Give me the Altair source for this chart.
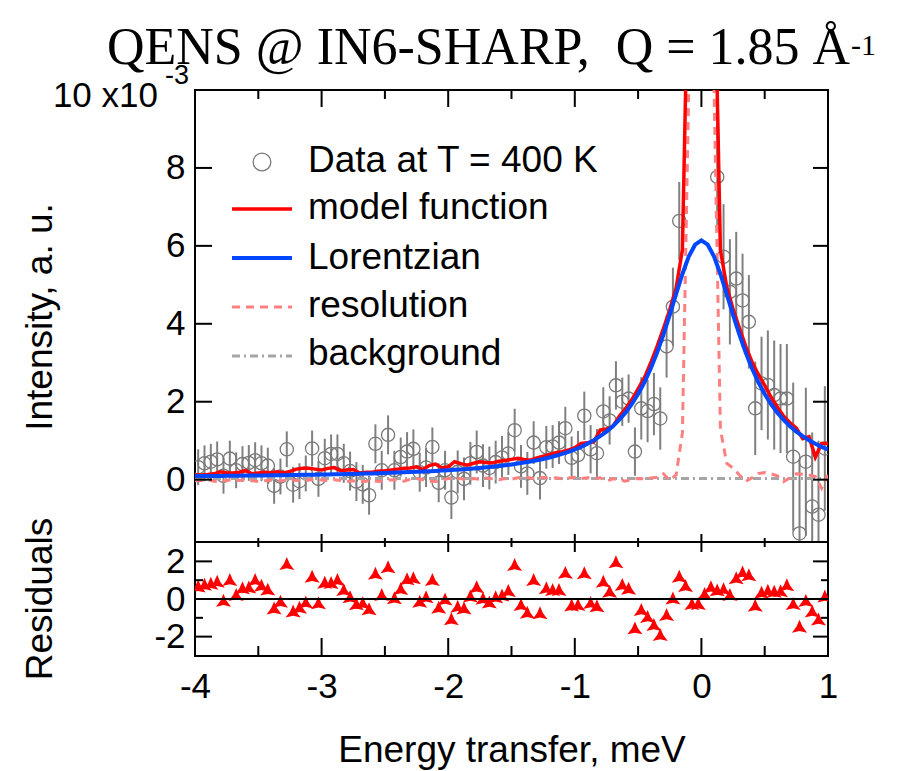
import altair as alt
import pandas as pd

# ---- measured spectrum (bin centres, meV), intensity in units of 1e-3 ----
energy = [
    -3.975, -3.925, -3.875, -3.825, -3.775, -3.725, -3.675, -3.625, -3.575, -3.525,
    -3.475, -3.425, -3.375, -3.325, -3.275, -3.225, -3.175, -3.125, -3.075, -3.025,
    -2.975, -2.925, -2.875, -2.825, -2.775, -2.725, -2.675, -2.625, -2.575, -2.525,
    -2.475, -2.425, -2.375, -2.325, -2.275, -2.225, -2.175, -2.125, -2.075, -2.025,
    -1.975, -1.925, -1.875, -1.825, -1.775, -1.725, -1.675, -1.625, -1.575, -1.525,
    -1.475, -1.425, -1.375, -1.325, -1.275, -1.225, -1.175, -1.125, -1.075, -1.025,
    -0.975, -0.925, -0.875, -0.825, -0.775, -0.725, -0.675, -0.625, -0.575, -0.525,
    -0.475, -0.425, -0.375, -0.325, -0.275, -0.225, -0.175, -0.125, -0.075, -0.025,
    0.025, 0.075, 0.125, 0.175, 0.225, 0.275, 0.325, 0.375, 0.425, 0.475,
    0.525, 0.575, 0.625, 0.675, 0.725, 0.775, 0.825, 0.875, 0.925, 0.975,
]
intensity = [
    0.32, 0.42, 0.46, 0.52, 0.10, 0.54, 0.24, 0.40, 0.43, 0.50,
    0.42, 0.36, -0.16, 0.08, 0.78, -0.13, -0.04, 0.16, 0.80, 0.02,
    0.55, 0.66, 0.66, 0.42, 0.22, -0.05, -0.12, -0.40, 0.92, 0.24,
    1.15, 0.24, 0.58, 0.72, 0.79, 0.19, 0.31, 0.84, -0.08, 0.24,
    -0.46, 0.20, 0.02, 0.42, 0.71, 0.36, 0.30, 0.45, 0.57, 0.67,
    1.27, 0.34, 0.16, 0.95, 0.04, 0.83, 0.85, 0.95, 1.32, 0.56,
    0.63, 1.64, 0.78, 0.68, 1.75, 1.52, 2.42, 2.00, 2.08, 0.72,
    1.83, 1.76, 1.94, 1.57, 3.42, 4.44, 6.64, 11.2, 26.0, 49.0,
    50.0, 28.0, 7.77, 5.72, 4.82, 5.16, 4.60, 4.05, 1.83, 2.47,
    2.43, 2.17, 2.08, 2.08, 0.59, -1.38, 0.46, -0.69, -0.90, 0.80,
]
error = (
    [0.46] * 20 + [0.50] * 20 + [0.55] * 20 + [0.62] * 10 + [0.80] * 5
    + [1.00] * 3 + [1.20] * 4 + [1.35] * 3 + [1.20] * 5 + [1.40] * 4
    + [1.90] * 5 + [1.60]
)
residual = [
    0.57, 0.67, 0.72, 0.83, -0.18, 0.92, 0.12, 0.48, 0.52, 0.92,
    0.62, 0.41, -0.59, -0.23, 1.77, -0.75, -0.55, -0.28, 1.10, -0.32,
    0.78, 0.76, 0.92, 0.39, 0.01, -0.37, -0.31, -0.63, 1.25, 0.12,
    1.60, -0.05, 0.44, 0.96, 1.01, -0.23, 0.00, 0.92, -0.55, -0.12,
    -1.17, -0.50, -0.59, 0.05, 0.54, -0.07, -0.28, 0.00, 0.10, 0.34,
    1.72, -0.41, -0.82, 0.92, -0.85, 0.48, 0.39, 0.39, 1.30, -0.43,
    -0.41, 1.28, -0.30, -0.48, 0.83, 0.30, 1.86, 0.66, 0.46, -1.65,
    -0.67, -1.05, -1.47, -2.00, -0.94, -0.06, 1.10, 0.60, -0.36, -0.35,
    0.18, 0.54, 0.37, 0.43, 0.12, 1.01, 1.32, 1.17, -0.45, 0.25,
    0.35, 0.30, 0.32, 0.64, -0.36, -1.56, -0.19, -0.75, -1.18, 0.04,
]

# ---- fitted curves on the model grid ----
fit_energy = [
    -4.00, -3.95, -3.90, -3.85, -3.80, -3.75, -3.70, -3.65, -3.60, -3.55,
    -3.50, -3.45, -3.40, -3.35, -3.30, -3.25, -3.20, -3.15, -3.10, -3.05,
    -3.00, -2.95, -2.90, -2.85, -2.80, -2.75, -2.70, -2.65, -2.60, -2.55,
    -2.50, -2.45, -2.40, -2.35, -2.30, -2.25, -2.20, -2.15, -2.10, -2.05,
    -2.00, -1.95, -1.90, -1.85, -1.80, -1.75, -1.70, -1.65, -1.60, -1.55,
    -1.50, -1.45, -1.40, -1.35, -1.30, -1.25, -1.20, -1.15, -1.10, -1.05,
    -1.00, -0.95, -0.90, -0.85, -0.80, -0.75, -0.70, -0.65, -0.60, -0.55,
    -0.50, -0.45, -0.40, -0.35, -0.30, -0.25, -0.20, -0.15, -0.10, -0.05,
    0.00,
    0.05, 0.10, 0.15, 0.20, 0.25, 0.30, 0.35, 0.40, 0.45, 0.50,
    0.55, 0.60, 0.65, 0.70, 0.75, 0.80, 0.85, 0.90, 0.95, 1.00,
]
model = [
    0.12, 0.12, 0.13, 0.15, 0.20, 0.18, 0.17, 0.19, 0.23, 0.15,
    0.17, 0.19, 0.18, 0.20, 0.17, 0.21, 0.27, 0.29, 0.29, 0.27,
    0.25, 0.29, 0.31, 0.23, 0.25, 0.26, 0.17, 0.19, 0.19, 0.22,
    0.23, 0.25, 0.27, 0.29, 0.30, 0.33, 0.26, 0.36, 0.40, 0.30,
    0.33, 0.46, 0.41, 0.37, 0.42, 0.46, 0.44, 0.43, 0.47, 0.49,
    0.52, 0.55, 0.52, 0.50, 0.56, 0.60, 0.64, 0.69, 0.72, 0.76,
    0.82, 0.93, 0.95, 0.97, 1.27, 1.30, 1.36, 1.62, 1.82, 2.05,
    2.33, 2.62, 3.00, 3.42, 3.88, 4.36, 4.92, 5.90, 14.0, 40.0,
    60.0,
    40.0, 14.0, 5.90, 4.95, 4.38, 3.90, 3.42, 3.02, 2.70, 2.42,
    2.12, 1.86, 1.63, 1.46, 1.32, 1.05, 1.10, 0.58, 0.93, 0.93,
]
lorentzian = [
    0.092, 0.093, 0.094, 0.096, 0.097, 0.099, 0.100, 0.102, 0.104, 0.106,
    0.107, 0.109, 0.111, 0.114, 0.116, 0.118, 0.120, 0.123, 0.126, 0.128,
    0.131, 0.134, 0.138, 0.141, 0.145, 0.148, 0.152, 0.157, 0.161, 0.166,
    0.171, 0.176, 0.182, 0.188, 0.194, 0.201, 0.208, 0.215, 0.224, 0.232,
    0.242, 0.252, 0.263, 0.275, 0.287, 0.301, 0.316, 0.332, 0.350, 0.369,
    0.390, 0.413, 0.438, 0.466, 0.497, 0.531, 0.570, 0.612, 0.660, 0.714,
    0.774, 0.843, 0.922, 1.012, 1.115, 1.234, 1.372, 1.533, 1.720, 1.940,
    2.198, 2.500, 2.852, 3.259, 3.720, 4.228, 4.760, 5.278, 5.724, 6.030,
    6.140,
    6.030, 5.724, 5.278, 4.760, 4.228, 3.720, 3.259, 2.852, 2.500, 2.198,
    1.940, 1.720, 1.533, 1.372, 1.234, 1.115, 1.012, 0.922, 0.843, 0.774,
]
resolution = [
    -0.03, -0.02, 0.00, -0.04, -0.05, -0.02, 0.01, -0.02, 0.00, -0.03,
    -0.05, -0.03, -0.01, -0.04, -0.02, 0.01, -0.02, -0.04, -0.01, 0.02,
    -0.01, -0.03, 0.00, -0.02, -0.05, -0.03, -0.06, -0.04, -0.02, -0.05,
    -0.03, 0.00, -0.02, -0.04, 0.01, 0.03, 0.00, -0.04, -0.05, -0.02,
    0.03, 0.06, 0.02, 0.00, 0.03, 0.01, 0.04, 0.02, 0.00, 0.03,
    0.01, 0.05, 0.07, 0.04, 0.02, 0.06, 0.03, 0.05, 0.02, 0.04,
    0.06, 0.03, 0.05, 0.02, 0.05, -0.04, 0.02, 0.00, -0.04, 0.01,
    0.03, 0.02, 0.04, 0.06, 0.15, -0.02, 0.12, 1.2, 10.0, 36.0,
    55.0,
    36.0, 10.0, 1.3, 0.42, 0.30, 0.12, -0.05, 0.05, 0.16, 0.18,
    0.15, 0.10, -0.05, 0.05, 0.15, 0.14, 0.12, 0.08, -0.22, 0.12,
]
background_energy = [-4.0, 1.0]
background = [0.03, 0.03]

# ---- axis ticks and labels ----
x_major = [-4, -3, -2, -1, 0, 1]
x_minor = [-3.5, -2.5, -1.5, -0.5, 0.5]
y_major = [0, 2, 4, 6, 8]
y_labels = [0, 2, 4, 6, 8, 10]
res_major = [-2, 2]
res_minor = [-1, 1]
res_labels = [-2, 0, 2]

legend_labels = ["Data at T = 400 K", "model function", "Lorentzian",
                 "resolution", "background"]

SANS = "Liberation Sans"
SERIF = "Liberation Serif"
RED = "#ff0000"
BLUE = "#0047ff"
PINK = "#ff8080"
GREY = "#a6a6a6"
DATA_GREY = "#7a7a7a"
STAR = "M0,-1L0.35,-0.2L0.87,0.5L0,0.3L-0.87,0.5L-0.35,-0.2Z"
LABEL_SIZE = 35

W, H = 633, 452        # intensity panel
WR, HR = 633, 114      # residual panel

x_scale = alt.Scale(domain=[-4, 1], nice=False, zero=False)
y_scale = alt.Scale(domain=[-1.6, 10], nice=False, zero=False)
r_scale = alt.Scale(domain=[-3.03, 3.03], nice=False, zero=False)

y_axis = alt.Axis(
    values=y_labels, labelExpr="datum.value == 10 ? '' : datum.value + ''",
    ticks=False, tickSize=0, domain=False, grid=False, title=None,
    labelFont=SANS, labelFontSize=LABEL_SIZE, labelColor="black", labelPadding=10)
x_axis = alt.Axis(
    values=x_major, labelExpr="datum.value + ''", ticks=False, tickSize=0,
    domain=False, grid=False, title=None, labelFont=SANS, labelFontSize=LABEL_SIZE,
    labelColor="black", labelPadding=13, labelFlush=False)
r_axis = alt.Axis(
    values=res_labels, labelExpr="datum.value + ''", ticks=False, tickSize=0,
    domain=False, grid=False, title=None, labelFont=SANS, labelFontSize=LABEL_SIZE,
    labelColor="black", labelPadding=10)

points = pd.DataFrame({"E": energy, "I": intensity, "err": error, "res": residual})
points["lo"] = points["I"] - points["err"]
points["hi"] = points["I"] + points["err"]
curves = pd.DataFrame({"E": fit_energy, "model": model, "lor": lorentzian,
                       "resol": resolution})
bg_df = pd.DataFrame({"E": background_energy, "bg": background})
one = pd.DataFrame({"k": [0]})

XT = alt.X("E:Q", scale=x_scale, axis=None)


def YT(field):
    return alt.Y(field, scale=y_scale, axis=y_axis)


def text(label, x, y, size, font=SANS, align="left", angle=0):
    return alt.Chart(pd.DataFrame({"t": [label]})).mark_text(
        align=align, baseline="alphabetic", font=font, fontSize=size,
        angle=angle, color="black"
    ).encode(x=alt.value(x), y=alt.value(y), text="t:N")


def xticks(values, y0, y1, axis):
    return alt.Chart(pd.DataFrame({"v": values})).mark_rule(
        color="black", strokeWidth=2
    ).encode(x=alt.X("v:Q", scale=x_scale, axis=axis), y=alt.value(y0), y2=alt.value(y1))


def yticks(values, x0, x1, scale, axis):
    return alt.Chart(pd.DataFrame({"v": values})).mark_rule(
        color="black", strokeWidth=2
    ).encode(y=alt.Y("v:Q", scale=scale, axis=axis), x=alt.value(x0), x2=alt.value(x1))


def legend_line(y, color, width, dash=None):
    kw = dict(color=color, strokeWidth=width)
    if dash:
        kw["strokeDash"] = dash
    return alt.Chart(one).mark_rule(**kw).encode(
        x=alt.value(37), x2=alt.value(97), y=alt.value(y))


# keeps the page origin fixed relative to the plot frame
anchor = alt.Chart(one).mark_rule(color="white", strokeWidth=1).encode(
    x=alt.value(-193), x2=alt.value(-192), y=alt.value(-88), y2=alt.value(-87))

err_bars = alt.Chart(points).mark_rule(color="#808080", strokeWidth=2, clip=True).encode(
    x=XT, y=YT("lo:Q"), y2="hi:Q")
circles = alt.Chart(points).mark_point(
    shape="circle", filled=False, color=DATA_GREY, size=175, strokeWidth=1.3,
    opacity=1, clip=True
).encode(x=XT, y=YT("I:Q"))
bg_line = alt.Chart(bg_df).mark_line(
    color=GREY, strokeWidth=3, strokeDash=[8, 4, 2, 4], clip=True
).encode(x=XT, y=YT("bg:Q"))
res_line = alt.Chart(curves).mark_line(
    color=PINK, strokeWidth=3, strokeDash=[8, 6], clip=True
).encode(x=XT, y=YT("resol:Q"))
model_line = alt.Chart(curves).mark_line(color=RED, strokeWidth=3.5, clip=True).encode(
    x=XT, y=YT("model:Q"))
lor_line = alt.Chart(curves).mark_line(color=BLUE, strokeWidth=4, clip=True).encode(
    x=XT, y=YT("lor:Q"))

legend_marker = alt.Chart(one).mark_point(
    shape="circle", filled=False, color=DATA_GREY, size=314, strokeWidth=1.3, opacity=1
).encode(x=alt.value(67), y=alt.value(72))

top = alt.layer(
    anchor, err_bars, circles, bg_line, res_line, model_line, lor_line,
    xticks(x_major, 0, 17, None), xticks(x_minor, 0, 9, None),
    xticks(x_major, H, H - 8, None), xticks(x_minor, H, H - 4, None),
    yticks(y_major, 0, 17, y_scale, y_axis), yticks(y_major, W - 15, W, y_scale, y_axis),
    legend_marker,
    legend_line(119, RED, 3.5), legend_line(168, BLUE, 4),
    legend_line(217, PINK, 3, [8, 6]), legend_line(266, GREY, 3, [8, 4, 2, 4]),
    text(legend_labels[0], 113, 82, 37), text(legend_labels[1], 113, 129, 37),
    text(legend_labels[2], 113, 179, 37), text(legend_labels[3], 113, 227, 37),
    text(legend_labels[4], 113, 275, 37),
    text("10 x10", -37, 17, LABEL_SIZE, align="right"),
    text("-3", -30, -6, 27),
    text("QENS @ IN6-SHARP,\u00a0 Q = 1.85 \u00c5", -88, -26, 52, font=SERIF),
    text("-1", 656, -35, 30, font=SERIF),
    text("Intensity, a. u.", -143, 227, 37, align="center", angle=270),
).properties(width=W, height=H)

# ---- residual panel ----
markers = alt.Chart(points).mark_point(
    shape=STAR, filled=True, color=RED, size=300, strokeWidth=0, opacity=1, clip=True
).encode(x=alt.X("E:Q", scale=x_scale, axis=x_axis),
         y=alt.Y("res:Q", scale=r_scale, axis=r_axis))
zero = alt.Chart(pd.DataFrame({"v": [0]})).mark_rule(color="black", strokeWidth=2).encode(
    y=alt.Y("v:Q", scale=r_scale, axis=r_axis), x=alt.value(0), x2=alt.value(WR))

bottom = alt.layer(
    markers, zero,
    xticks(x_major, 0, 10, x_axis), xticks(x_minor, 0, 5, x_axis),
    xticks(x_major, HR, HR - 18, x_axis), xticks(x_minor, HR, HR - 10, x_axis),
    yticks(res_major, 0, 17, r_scale, r_axis), yticks(res_minor, 0, 8, r_scale, r_axis),
    yticks(res_major, WR - 15, WR, r_scale, r_axis),
    yticks(res_minor, WR - 7, WR, r_scale, r_axis),
    text("Residuals", -143, 57, 37, align="center", angle=270),
    text("Energy transfer, meV", 317, 220, 37, align="center"),
).properties(width=WR, height=HR)

chart = alt.vconcat(top, bottom, spacing=0, bounds="flush").properties(
    padding=0).configure_view(stroke="black", strokeWidth=2)

chart.save("out.html", embed_options={"renderer": "svg", "actions": False})
